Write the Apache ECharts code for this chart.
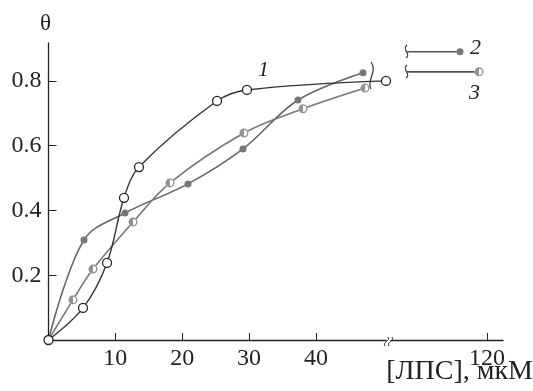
<!DOCTYPE html>
<html><head><meta charset="utf-8">
<script src="https://cdn.jsdelivr.net/npm/echarts@6/dist/echarts.min.js"></script>
<style>html,body{margin:0;padding:0;background:#fff}#c{width:533px;height:391px}</style>
</head><body><div id="c"></div>
<script>
// ---- data ----
const xTicks = [10, 20, 30, 40];
const xTickFar = [120];
const yTicks = [0.2, 0.4, 0.6, 0.8];

const x1 = [0, 5.16, 8.75, 11.29, 13.53, 25.2, 29.68, 50.47];
const y1 = [0, 0.099, 0.238, 0.439, 0.534, 0.738, 0.772, 0.800];

const x2 = [0, 5.31, 11.44, 20.86, 29.08, 37.31, 47.03];
const y2 = [0, 0.309, 0.392, 0.482, 0.590, 0.741, 0.825];

const x3 = [0, 3.66, 6.65, 12.64, 18.17, 29.23, 38.06, 47.33];
const y3 = [0, 0.124, 0.219, 0.364, 0.485, 0.639, 0.714, 0.778];

// values at 120 uM (drawn right of the axis break)
const farStartX = [107.88, 107.88];
const farX = [115.96, 118.8];
const farY = [0.890, 0.828];

const zip = (a, b) => a.map((v, i) => [v, b[i]]);

const halfPath = 'path://M0,10A10,10 0 1,1 20,10A10,10 0 1,1 0,10Z M3,10A7,7 0 1,0 17,10A7,7 0 1,0 3,10Z M10,3A7,7 0 0,0 10,17Z';

const chart = echarts.init(document.getElementById('c'));
chart.setOption({
  animation: false,
  backgroundColor: '#fff',
  grid: [
    {left: 48.5, right: 147, top: 43, bottom: 51},
    {left: 391, right: 30, top: 43, bottom: 51}
  ],
  xAxis: [
    {type: 'value', gridIndex: 0, min: 0, max: 50.47, splitLine: {show: false},
     axisLine: {lineStyle: {color: '#222', width: 1.3}},
     axisTick: {inside: true, length: 7, customValues: xTicks, lineStyle: {color: '#222'}},
     axisLabel: {margin: 7, customValues: xTicks, fontFamily: 'Liberation Serif', fontSize: 24, color: '#222'}},
    {type: 'value', gridIndex: 1, min: 105.64, max: 122.39, splitLine: {show: false},
     axisLine: {lineStyle: {color: '#222', width: 1.3}},
     axisTick: {inside: true, length: 7, customValues: xTickFar, lineStyle: {color: '#222'}},
     axisLabel: {margin: 7, customValues: xTickFar, fontFamily: 'Liberation Serif', fontSize: 24, color: '#222'}}
  ],
  yAxis: [
    {type: 'value', gridIndex: 0, min: 0, max: 0.917, splitLine: {show: false},
     name: 'θ', nameLocation: 'end', nameGap: 8,
     nameTextStyle: {fontFamily: 'Liberation Serif', fontSize: 23, color: '#222', align: 'center', padding: [0, 6, 0, 0]},
     axisLine: {show: true, lineStyle: {color: '#222', width: 1.3}},
     axisTick: {show: true, inside: true, length: 8, customValues: yTicks, lineStyle: {color: '#222'}},
     axisLabel: {margin: 7, customValues: yTicks, formatter: v => v.toFixed(1), fontFamily: 'Liberation Serif', fontSize: 24, color: '#222'}},
    {type: 'value', gridIndex: 1, min: 0, max: 0.917, show: false}
  ],
  series: [
    {type: 'line', name: '1', xAxisIndex: 0, yAxisIndex: 0, data: zip(x1, y1), smooth: 0.35, clip: false,
     lineStyle: {color: '#333', width: 1.4}, symbol: 'circle', symbolSize: 9,
     itemStyle: {color: '#fff', borderColor: '#222', borderWidth: 1.3}, z: 3},
    {type: 'line', name: '2', xAxisIndex: 0, yAxisIndex: 0, data: zip(x2, y2), smooth: 0.35, clip: false,
     lineStyle: {color: '#666', width: 1.6}, symbol: 'circle', symbolSize: 7,
     itemStyle: {color: '#777', borderColor: '#777', borderWidth: 0}, z: 2},
    {type: 'line', name: '3', xAxisIndex: 0, yAxisIndex: 0, data: zip(x3, y3), smooth: 0.35, clip: false,
     lineStyle: {color: '#777', width: 1.6}, symbol: 'circle', symbolSize: 9,
     itemStyle: {color: '#fff', borderWidth: 0}, z: 2},
    {type: 'scatter', xAxisIndex: 0, yAxisIndex: 0, data: zip(x3, y3).slice(1), symbol: halfPath, symbolSize: 9,
     itemStyle: {color: '#777'}, z: 4},
    // beyond the break
    {type: 'line', xAxisIndex: 1, yAxisIndex: 1, clip: false,
     data: [{value: [farStartX[0], farY[0]], symbol: 'none'}, {value: [farX[0], farY[0]]}],
     lineStyle: {color: '#555', width: 1.6}, symbol: 'circle', symbolSize: 7, itemStyle: {color: '#777'}},
    {type: 'line', xAxisIndex: 1, yAxisIndex: 1, clip: false,
     data: [{value: [farStartX[1], farY[1]], symbol: 'none'}, {value: [farX[1], farY[1]]}],
     lineStyle: {color: '#555', width: 1.6}, symbol: 'circle', symbolSize: 9,
     itemStyle: {color: '#fff', borderWidth: 0}},
    {type: 'scatter', xAxisIndex: 1, yAxisIndex: 1, data: [[farX[1], farY[1]]], symbol: halfPath, symbolSize: 9,
     itemStyle: {color: '#777'}, z: 4}
  ],
  graphic: [
    {type: 'text', left: 258, top: 59, style: {text: '1', font: 'italic 22px "Liberation Serif"', fill: '#222'}},
    {type: 'text', left: 470, top: 37, style: {text: '2', font: 'italic 22px "Liberation Serif"', fill: '#222'}},
    {type: 'text', left: 469, top: 82, style: {text: '3', font: 'italic 22px "Liberation Serif"', fill: '#222'}},
    {type: 'text', right: 0, top: 358, style: {text: '[ЛПС], мкМ', font: '28px "Liberation Serif"', fill: '#222'}},
    // axis break marks
    {type: 'bezierCurve', shape: {x1: 385, y1: 346, x2: 388, y2: 337, cpx1: 382, cpy1: 342, cpx2: 391, cpy2: 341}, style: {stroke: '#222', lineWidth: 1, fill: null}},
    {type: 'bezierCurve', shape: {x1: 389, y1: 346, x2: 392, y2: 337, cpx1: 386, cpy1: 342, cpx2: 395, cpy2: 341}, style: {stroke: '#222', lineWidth: 1, fill: null}},
    {type: 'bezierCurve', shape: {x1: 371, y1: 62, x2: 371, y2: 89, cpx1: 378, cpy1: 72, cpx2: 366, cpy2: 80}, style: {stroke: '#333', lineWidth: 1.2, fill: null}},
    {type: 'bezierCurve', shape: {x1: 407, y1: 45, x2: 406, y2: 58, cpx1: 401, cpy1: 50, cpx2: 412, cpy2: 54}, style: {stroke: '#333', lineWidth: 1.2, fill: null}},
    {type: 'bezierCurve', shape: {x1: 407, y1: 65, x2: 406, y2: 78, cpx1: 401, cpy1: 70, cpx2: 412, cpy2: 74}, style: {stroke: '#333', lineWidth: 1.2, fill: null}}
  ]
});
</script></body></html>
